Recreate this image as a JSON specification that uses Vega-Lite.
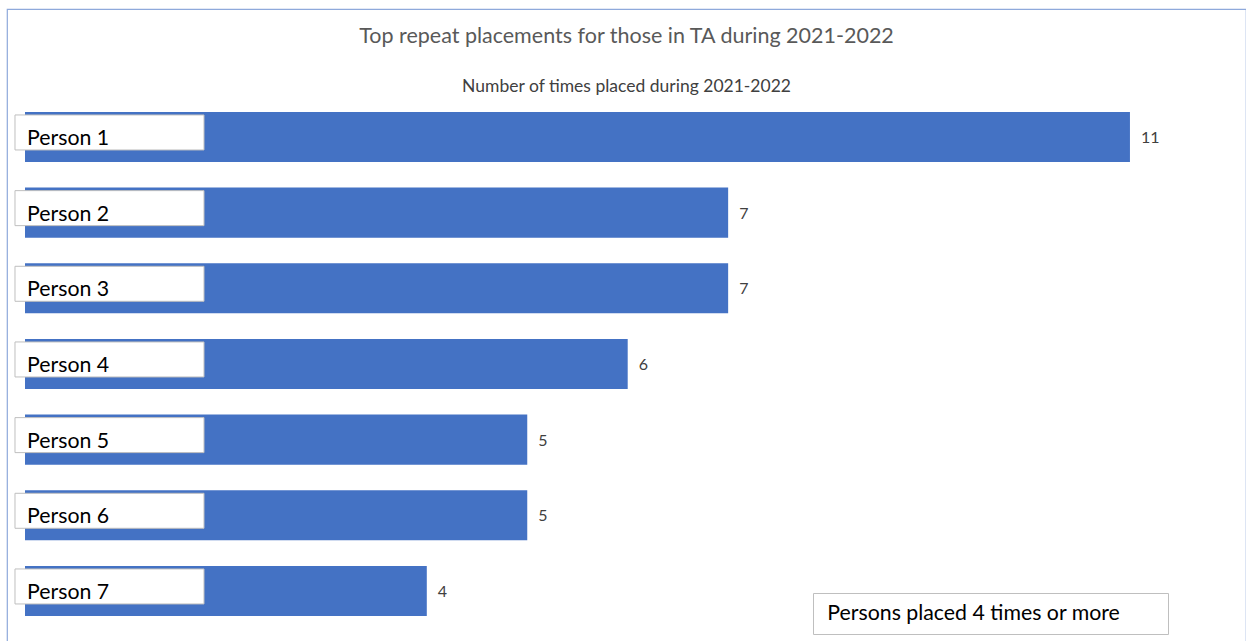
{
  "$schema": "https://vega.github.io/schema/vega-lite/v6.json",
  "autosize": {"type": "none"},
  "padding": {"left": 7, "top": 9, "right": 0, "bottom": 0},
  "width": 1239,
  "height": 634,
  "background": "white",
  "config": {
    "font": "Lato",
    "view": {"stroke": "#8EA9DB", "strokeWidth": 1.2},
    "title": {"anchor": "middle", "frame": "group"}
  },
  "title": {
    "text": "Top repeat placements for those in TA during 2021-2022",
    "subtitle": "Number of times placed during 2021-2022",
    "fontSize": 21.5,
    "fontWeight": "normal",
    "color": "#595959",
    "subtitleFontSize": 17.5,
    "subtitleColor": "#404040",
    "subtitlePadding": 30,
    "offset": -86,
    "font": "Lato",
    "subtitleFont": "Lato"
  },
  "data": {
    "values": [
      {"person": "Person 1", "times": 11},
      {"person": "Person 2", "times": 7},
      {"person": "Person 3", "times": 7},
      {"person": "Person 4", "times": 6},
      {"person": "Person 5", "times": 5},
      {"person": "Person 6", "times": 5},
      {"person": "Person 7", "times": 4}
    ]
  },
  "encoding": {
    "y": {
      "field": "person",
      "type": "nominal",
      "sort": null,
      "axis": null,
      "scale": {"paddingInner": 0.339, "paddingOuter": 0.859, "align": 0.792}
    }
  },
  "layer": [
    {
      "mark": {"type": "bar", "color": "#4472C4"},
      "encoding": {
        "x": {
          "field": "times",
          "type": "quantitative",
          "axis": null,
          "scale": {"domain": [-0.1792, 12.1553], "nice": false, "zero": false}
        },
        "x2": {"datum": 0},
        "color": {
          "datum": "Persons placed 4 times or more",
          "type": "nominal",
          "scale": {"range": ["#4472C4"]},
          "legend": {
            "title": " ",
            "titleOrient": "right",
            "titlePadding": 38,
            "titleFontSize": 10,
            "orient": "none",
            "legendX": 806,
            "legendY": 584,
            "strokeColor": "#BFBFBF",
            "fillColor": "white",
            "padding": 10,
            "symbolSize": 0,
            "symbolOpacity": 0,
            "symbolStrokeWidth": 0,
            "labelOffset": -17,
            "labelFont": "Lato",
            "labelFontSize": 21.3,
            "labelColor": "#000000",
            "labelLimit": 400
          }
        }
      }
    },
    {
      "mark": {"type": "bar", "fill": "white", "stroke": "#BFBFBF", "strokeWidth": 1, "height": 35, "yOffset": -4.5},
      "encoding": {
        "x": {"datum": -0.0996, "type": "quantitative"},
        "x2": {"datum": 1.782}
      }
    },
    {
      "mark": {"type": "text", "align": "left", "baseline": "alphabetic", "dx": 2, "dy": 8, "fontSize": 21.3, "color": "#000000"},
      "encoding": {
        "x": {"datum": 0, "type": "quantitative"},
        "text": {"field": "person"}
      }
    },
    {
      "mark": {"type": "text", "align": "left", "baseline": "alphabetic", "dx": 11, "dy": 6, "fontSize": 16, "color": "#404040"},
      "encoding": {
        "x": {"field": "times", "type": "quantitative"},
        "text": {"field": "times"}
      }
    }
  ]
}
